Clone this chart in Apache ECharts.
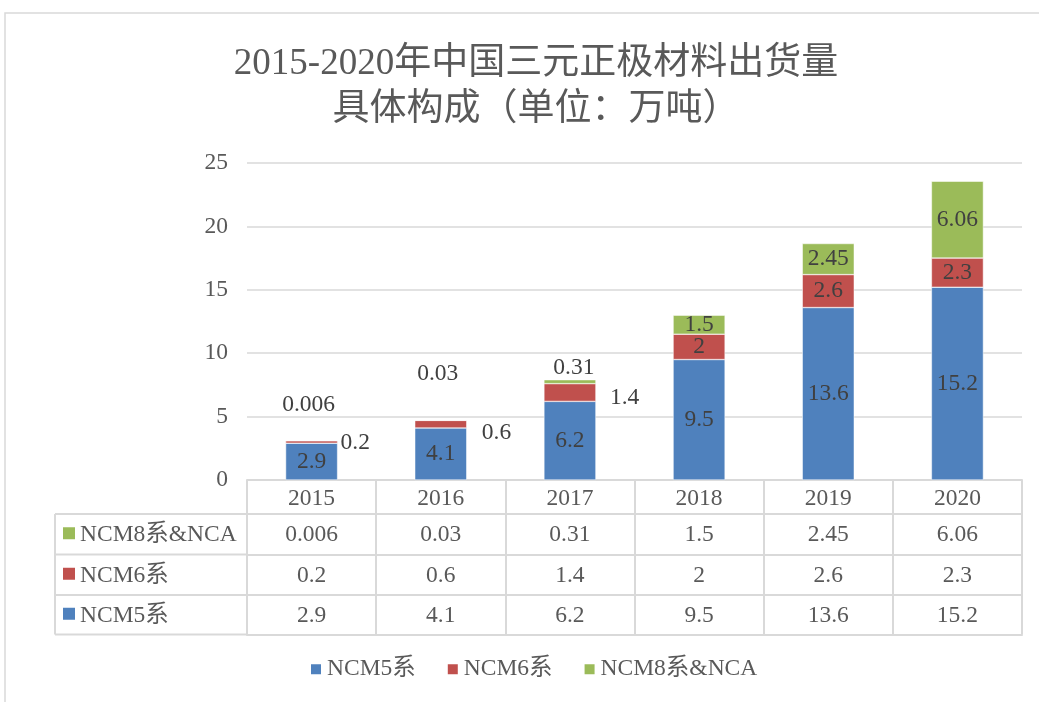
<!DOCTYPE html>
<html>
<head>
<meta charset="utf-8">
<script src="https://cdn.jsdelivr.net/npm/echarts@6/dist/echarts.min.js"></script>
<style>
  html, body { margin: 0; padding: 0; background: #fff; }
  #main { width: 1039px; height: 702px; }
</style>
</head>
<body>
<div id="main"></div>
<script>
// 数据
var years = ['2015', '2016', '2017', '2018', '2019', '2020'];
var seriesNames = ['NCM5系', 'NCM6系', 'NCM8系&NCA'];
var ncm5 = [2.9, 4.1, 6.2, 9.5, 13.6, 15.2];
var ncm6 = [0.2, 0.6, 1.4, 2, 2.6, 2.3];
var ncm8 = [0.006, 0.03, 0.31, 1.5, 2.45, 6.06];
var colors = ['#4f81bd', '#c0504d', '#9bbb59'];

var FONT = '"Liberation Serif", "Noto Sans CJK SC", serif';
var TXT = '#595959';
var LINE = '#d9d9d9';
var FS = 23.5;

// 布局
var H = 702;
var G = { left: 247, right: 17, top: 163, bottom: 222 };
var axisY = H - G.bottom;
var rowOffsets = [34, 74.5, 115, 154.5]; // 表格各行上边线（相对 x 轴）
var tableLeft = 55;

// 小数值的标签挪到柱外
var labelMoves = {
  1: { 0: { position: 'right', offset: [-2, 1] }, 1: { position: 'right', offset: [10, 9] }, 2: { position: 'right', offset: [9, 5] } },
  2: { 0: { position: 'top', offset: [-3, -19] }, 1: { position: 'top', offset: [-3, -29] }, 2: { position: 'top', offset: [4, 5] } }
};

var chart = echarts.init(document.getElementById('main'));

var allData = [ncm5, ncm6, ncm8];
var series = allData.map(function (arr, si) {
  return {
    name: seriesNames[si],
    type: 'bar',
    stack: 'total',
    barWidth: 52,
    itemStyle: { color: colors[si], borderColor: '#fff', borderWidth: 0.5 },
    label: {
      show: true,
      position: 'inside',
      color: '#404040',
      fontSize: FS,
      fontFamily: FONT,
      formatter: function (p) { return String(allData[si][p.dataIndex]); }
    },
    data: arr.map(function (v, i) {
      var mv = labelMoves[si] && labelMoves[si][i];
      if (mv) {
        return { value: v, label: { position: mv.position, offset: mv.offset, distance: 5 } };
      }
      return v;
    })
  };
});

// 表格：每行用一个偏移的 x 轴画
var rowData = [ncm8, ncm6, ncm5];
var rowNames = ['NCM8系&NCA', 'NCM6系', 'NCM5系'];
var rowColors = [colors[2], colors[1], colors[0]];

var xAxes = [{
  type: 'category',
  data: years,
  gridIndex: 0,
  position: 'bottom',
  axisLine: { show: true, lineStyle: { color: LINE, width: 2 } },
  axisTick: { show: true, length: rowOffsets[0], lineStyle: { color: LINE, width: 2 } },
  axisLabel: { color: TXT, fontSize: FS, fontFamily: FONT, margin: 7 }
}];
rowData.forEach(function (arr, r) {
  xAxes.push({
    type: 'category',
    data: years,
    gridIndex: 0,
    position: 'bottom',
    offset: rowOffsets[r],
    axisLine: { show: true, lineStyle: { color: LINE, width: 2 } },
    axisTick: { show: true, length: rowOffsets[r + 1] - rowOffsets[r], lineStyle: { color: LINE, width: 2 } },
    axisLabel: {
      color: TXT, fontSize: FS, fontFamily: FONT, margin: 9.5,
      formatter: function (v, idx) { return String(arr[idx]); }
    }
  });
});
xAxes.push({
  type: 'category',
  data: years,
  gridIndex: 0,
  position: 'bottom',
  offset: rowOffsets[3],
  axisLine: { show: true, lineStyle: { color: LINE, width: 2 } },
  axisTick: { show: false },
  axisLabel: { show: false }
});

// 外框和表格左侧列
var graphics = [{
  type: 'rect',
  shape: { x: 5, y: 13, width: 1200, height: 900 },
  style: { fill: 'none', stroke: LINE, lineWidth: 1.5 },
  silent: true
}];
for (var r = 0; r < 4; r++) {
  graphics.push({
    type: 'line',
    shape: { x1: tableLeft, y1: axisY + rowOffsets[r], x2: G.left, y2: axisY + rowOffsets[r] },
    style: { stroke: LINE, lineWidth: 2 }
  });
}
graphics.push({
  type: 'line',
  shape: { x1: tableLeft, y1: axisY + rowOffsets[0], x2: tableLeft, y2: axisY + rowOffsets[3] },
  style: { stroke: LINE, lineWidth: 2 }
});
rowNames.forEach(function (nm, r) {
  var cy = axisY + (rowOffsets[r] + rowOffsets[r + 1]) / 2;
  graphics.push({
    type: 'rect',
    shape: { x: 63, y: cy - 7, width: 12, height: 12 },
    style: { fill: rowColors[r] }
  });
  graphics.push({
    type: 'text',
    x: 80, y: cy + 1,
    style: { text: nm, fill: TXT, font: FS + 'px ' + FONT, verticalAlign: 'middle' }
  });
});

var option = {
  backgroundColor: '#fff',
  animation: false,
  title: {
    text: '2015-2020年中国三元正极材料出货量\n具体构成（单位：万吨）',
    left: 531,
    top: 36,
    textAlign: 'center',
    textStyle: { color: TXT, fontSize: 37, fontWeight: 'normal', fontFamily: FONT, lineHeight: 46 }
  },
  legend: {
    data: seriesNames,
    bottom: 16,
    left: 304,
    icon: 'rect',
    itemWidth: 12,
    itemHeight: 12,
    itemGap: 30,
    textStyle: { color: TXT, fontSize: FS, fontFamily: FONT }
  },
  grid: { left: G.left, right: G.right, top: G.top, bottom: G.bottom, containLabel: false },
  xAxis: xAxes,
  yAxis: {
    type: 'value',
    min: 0,
    max: 25,
    interval: 5,
    axisLine: { show: false },
    axisTick: { show: false },
    axisLabel: { color: TXT, fontSize: FS, fontFamily: FONT, margin: 19 },
    splitLine: { lineStyle: { color: LINE, width: 1.5 } }
  },
  graphic: graphics,
  series: series
};

chart.setOption(option);
</script>
</body>
</html>
